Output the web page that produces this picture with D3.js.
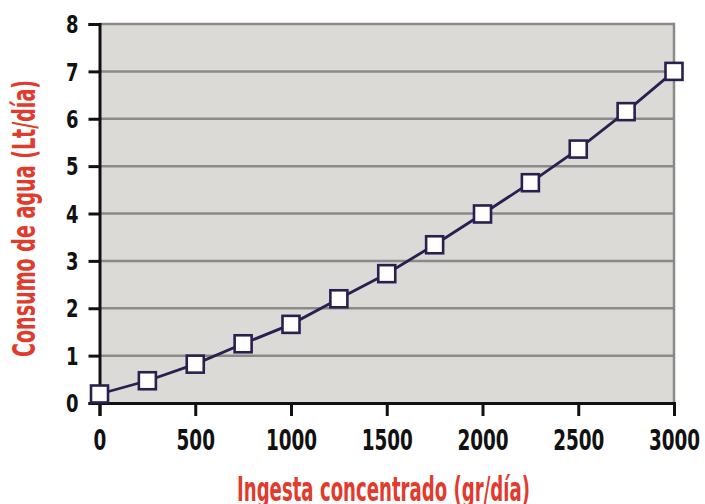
<!DOCTYPE html>
<html>
<head>
<meta charset="utf-8">
<script src="https://cdn.jsdelivr.net/npm/d3@7"></script>
<style>
  html, body { margin: 0; padding: 0; background: #fff; }
  svg { display: block; }
  text { font-family: "Liberation Sans Narrow", "DejaVu Sans Condensed", "Roboto", sans-serif; }
</style>
</head>
<body>
<svg id="chart" width="705" height="504"></svg>
<script>
// ---- data ----
const intake = [0, 250, 500, 750, 1000, 1250, 1500, 1750, 2000, 2250, 2500, 2750, 3000];
const water  = [0.19, 0.47, 0.82, 1.25, 1.66, 2.2, 2.73, 3.34, 3.99, 4.65, 5.36, 6.15, 7.0];
const xTicks = [0, 500, 1000, 1500, 2000, 2500, 3000];
const yTicks = [0, 1, 2, 3, 4, 5, 6, 7, 8];
const xTitle = "Ingesta concentrado (gr/día)";
const yTitle = "Consumo de agua (Lt/día)";

(function () {
const svg = d3.select("#chart");
const pL = 99.5, pR = 674, pT = 24, pB = 403;

const x = d3.scaleLinear().domain([0, 3000]).range([pL, pR]);
const y = d3.scaleLinear().domain([0, 8]).range([pB, pT]);

// plot background
svg.append("rect")
  .attr("x", pL).attr("y", pT)
  .attr("width", pR - pL).attr("height", pB - pT)
  .attr("fill", "#dbdad7");

// gridlines
svg.append("g").selectAll("line").data(yTicks.filter(d => d > 0)).join("line")
  .attr("x1", pL).attr("x2", pR)
  .attr("y1", d => y(d)).attr("y2", d => y(d))
  .attr("stroke", "#8b8a88").attr("stroke-width", 2.5);

// right border
svg.append("line")
  .attr("x1", pR).attr("x2", pR).attr("y1", pT - 1.2).attr("y2", pB)
  .attr("stroke", "#8b8a88").attr("stroke-width", 2.5);

// y axis
const yAxis = d3.axisLeft(y).tickValues(yTicks).tickSize(11).tickPadding(10).tickFormat(d3.format("d"));
const gy = svg.append("g").attr("transform", `translate(${pL},0)`).call(yAxis);
gy.select(".domain").attr("stroke", "#111").attr("stroke-width", 3);
gy.selectAll(".tick line").attr("stroke", "#111").attr("stroke-width", 3);
gy.selectAll(".tick text")
  .attr("fill", "#111").attr("font-size", 24).attr("font-weight", "bold")
  .attr("dy", "0.36em")
  .attr("textLength", d => String(d).length * 12.5)
  .attr("lengthAdjust", "spacingAndGlyphs");

// x axis
const xAxis = d3.axisBottom(x).tickValues(xTicks).tickSize(13).tickPadding(13).tickFormat(d3.format("d"));
const gx = svg.append("g").attr("transform", `translate(0,${pB})`).call(xAxis);
gx.select(".domain").attr("stroke", "#111").attr("stroke-width", 3);
gx.selectAll(".tick line").attr("stroke", "#111").attr("stroke-width", 3);
gx.selectAll(".tick text")
  .attr("fill", "#111").attr("font-size", 29).attr("font-weight", "bold")
  .attr("textLength", d => String(d).length * 12.8)
  .attr("lengthAdjust", "spacingAndGlyphs");

// line
const line = d3.line().x((d, i) => x(intake[i])).y(d => y(d));
svg.append("path").datum(water)
  .attr("d", line)
  .attr("fill", "none").attr("stroke", "#2b1f50").attr("stroke-width", 2.8);

// markers
const ms = 17;
svg.append("g").selectAll("rect").data(water).join("rect")
  .attr("x", (d, i) => x(intake[i]) - ms / 2)
  .attr("y", d => y(d) - ms / 2)
  .attr("width", ms).attr("height", ms)
  .attr("fill", "#fff").attr("stroke", "#2b1f50").attr("stroke-width", 2.6);

// titles
svg.append("text")
  .attr("x", 237).attr("y", 501)
  .attr("textLength", 293).attr("lengthAdjust", "spacingAndGlyphs")
  .attr("font-size", 33).attr("font-weight", "bold")
  .attr("fill", "#e03b2d")
  .text(xTitle);

svg.append("text")
  .attr("transform", "translate(35,357) rotate(-90)")
  .attr("textLength", 277).attr("lengthAdjust", "spacingAndGlyphs")
  .attr("font-size", 32).attr("font-weight", "bold")
  .attr("fill", "#e03b2d")
  .text(yTitle);
})();
</script>
</body>
</html>
